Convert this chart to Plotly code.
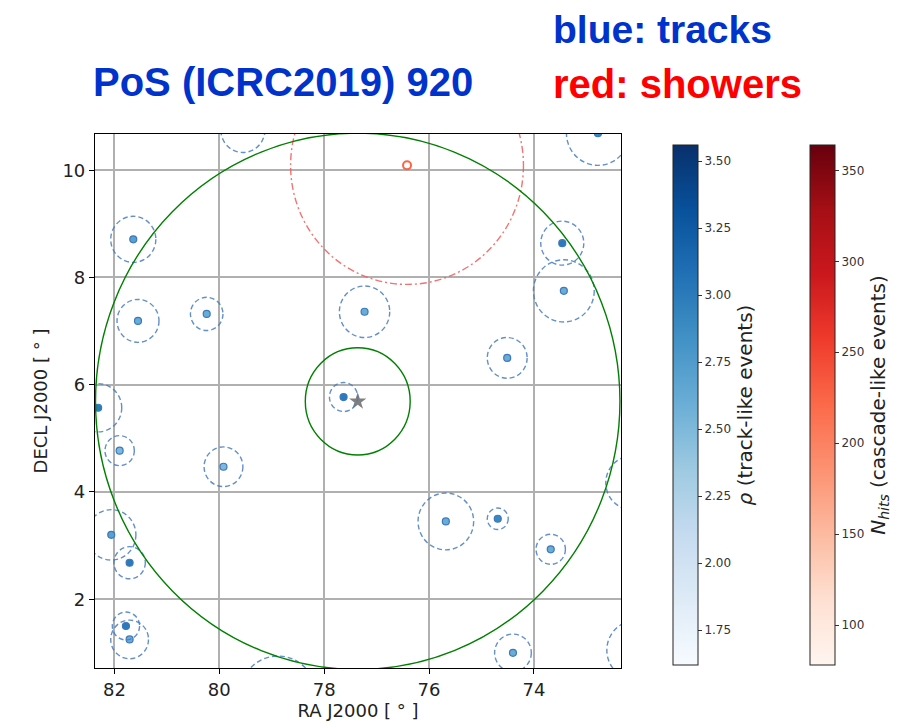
import plotly.graph_objects as go

# ---- data -------------------------------------------------------------
track_ra = [79.55, 72.78, 81.64, 81.55, 80.24, 77.23, 73.46, 73.43, 74.51, 77.63, 82.31, 81.90,
            79.92, 82.06, 81.71, 81.78, 81.71, 78.88, 75.68, 74.69, 73.68, 74.40, 72.13, 72.06]
track_dec = [10.75, 10.69, 8.71, 7.19, 7.32, 7.36, 8.64, 7.75, 6.50, 5.77, 5.57, 4.77,
             4.47, 3.20, 2.68, 1.50, 1.25, 0.21, 3.45, 3.50, 2.93, 1.00, 4.17, 1.05]
track_err = [0.42, 0.60, 0.43, 0.40, 0.31, 0.48, 0.41, 0.58, 0.38, 0.27, 0.45, 0.28,
             0.37, 0.47, 0.30, 0.26, 0.36, 0.73, 0.53, 0.20, 0.28, 0.35, 0.50, 0.55]
track_rho = [2.6, 2.9, 2.7, 2.6, 2.6, 2.6, 3.0, 2.6, 2.6, 3.0, 3.0, 2.5,
             2.5, 2.7, 3.0, 3.0, 2.6, 2.6, 2.6, 2.9, 2.6, 2.6, 2.6, 2.6]

cascade_ra = [76.42]
cascade_dec = [10.09]
cascade_err = [2.22]
cascade_nhits = [225]

source_ra = 77.36
source_dec = 5.69
source_radii = [1.0, 5.0]

x_ticks = [82, 80, 78, 76, 74]
y_ticks = [2, 4, 6, 8, 10]
rho_ticks = [1.75, 2.00, 2.25, 2.50, 2.75, 3.00, 3.25, 3.50]
nhits_ticks = [100, 150, 200, 250, 300, 350]

# ---- figure -----------------------------------------------------------
OFF = 8  # browser body margin
W, H = 910 - OFF, 728 - OFF
L, R, T, B = 95 - OFF, 621 - OFF, 134 - OFF, 668 - OFF
pw, ph = R - L, B - T


def px(x):
    return (x - OFF - L) / pw


def py(y):
    return (B - (y - OFF)) / ph


fig = go.Figure()

shapes = []
for ra, dec, r in zip(track_ra, track_dec, track_err):
    shapes.append(dict(type="circle", xref="x", yref="y", x0=ra - r, x1=ra + r,
                       y0=dec - r, y1=dec + r,
                       line=dict(color="rgba(70,125,190,0.85)", width=1.4, dash="5px,3px")))
for ra, dec, r in zip(cascade_ra, cascade_dec, cascade_err):
    shapes.append(dict(type="circle", xref="x", yref="y", x0=ra - r, x1=ra + r,
                       y0=dec - r, y1=dec + r,
                       line=dict(color="rgba(240,90,90,0.85)", width=1.4, dash="7px,3px,2px,3px")))
for r in source_radii:
    shapes.append(dict(type="circle", xref="x", yref="y", x0=source_ra - r, x1=source_ra + r,
                       y0=source_dec - r, y1=source_dec + r,
                       line=dict(color="green", width=1.4)))

cb_common = dict(thickness=25, thicknessmode="pixels", len=520, lenmode="pixels",
                 y=py(405), yanchor="middle", xanchor="left", xpad=0, ypad=0,
                 outlinewidth=1, outlinecolor="#222", ticks="outside", ticklen=4,
                 tickcolor="#333",
                 tickfont=dict(family="DejaVu Sans", size=12, color="#333"))

fig.add_trace(go.Scatter(
    x=track_ra, y=track_dec, mode="markers",
    marker=dict(size=7, color=track_rho, colorscale="Blues", cmin=1.62, cmax=3.56,
                line=dict(color="rgba(60,120,190,1)", width=1.2),
                colorbar=dict(x=px(673), tickvals=rho_ticks, tickformat=".2f",
                              ticksuffix=" ",
                              title=dict(text="<i>ρ</i> (track-like events)", side="right",
                                         font=dict(family="DejaVu Sans", size=20, color="#222")),
                              **cb_common)),
    showlegend=False, hoverinfo="skip"))

fig.add_trace(go.Scatter(
    x=cascade_ra, y=cascade_dec, mode="markers",
    marker=dict(size=8, symbol="circle-open", color=cascade_nhits, colorscale="Reds",
                cmin=78, cmax=364, line=dict(width=2),
                colorbar=dict(x=px(810), tickvals=nhits_ticks,
                              title=dict(text="<i>N</i><sub><i>hits</i></sub> (cascade-like events)",
                                         side="right",
                                         font=dict(family="DejaVu Sans", size=20, color="#222")),
                              **cb_common)),
    showlegend=False, hoverinfo="skip"))

fig.add_trace(go.Scatter(
    x=[source_ra], y=[source_dec], mode="markers",
    marker=dict(symbol="star", size=13, color="gray"),
    showlegend=False, hoverinfo="skip"))

axis_common = dict(showgrid=True, gridcolor="#b0b0b0", gridwidth=1.5, showline=True,
                   linecolor="black", linewidth=1.2, mirror=True, ticks="outside",
                   ticklen=5, tickcolor="black", zeroline=False, automargin=False,
                   tickfont=dict(family="DejaVu Sans", size=18, color="#222"))

fig.update_layout(
    width=W, height=H, autosize=False,
    margin=dict(l=L, r=W - R, t=T, b=H - B, autoexpand=False),
    paper_bgcolor="white", plot_bgcolor="white",
    shapes=shapes,
    xaxis=dict(range=[82.37, 72.34], tickvals=x_ticks,
               title=dict(text="RA J2000 [ ° ]", standoff=2,
                          font=dict(family="DejaVu Sans", size=18, color="#222")),
               **axis_common),
    yaxis=dict(range=[0.717, 10.675], tickvals=y_ticks,
               title=dict(text="DECL J2000 [ ° ]", standoff=10,
                          font=dict(family="DejaVu Sans", size=18, color="#222")),
               **axis_common),
    annotations=[
        dict(text="<b>PoS (ICRC2019) 920</b>", xref="paper", yref="paper",
             x=px(91), y=py(82), xanchor="left", yanchor="middle", showarrow=False,
             font=dict(family="Liberation Sans Narrow, Arial Narrow, sans-serif", size=40,
                       color="#0033cc")),
        dict(text="<b>blue: tracks</b>", xref="paper", yref="paper",
             x=px(551), y=py(30), xanchor="left", yanchor="middle", showarrow=False,
             font=dict(family="Liberation Sans Narrow, Arial Narrow, sans-serif", size=39,
                       color="#0033cc")),
        dict(text="<b>red: showers</b>", xref="paper", yref="paper",
             x=px(551), y=py(84), xanchor="left", yanchor="middle", showarrow=False,
             font=dict(family="Liberation Sans Narrow, Arial Narrow, sans-serif", size=40,
                       color="#ff0000")),
    ],
)

fig.write_html("out.html")
